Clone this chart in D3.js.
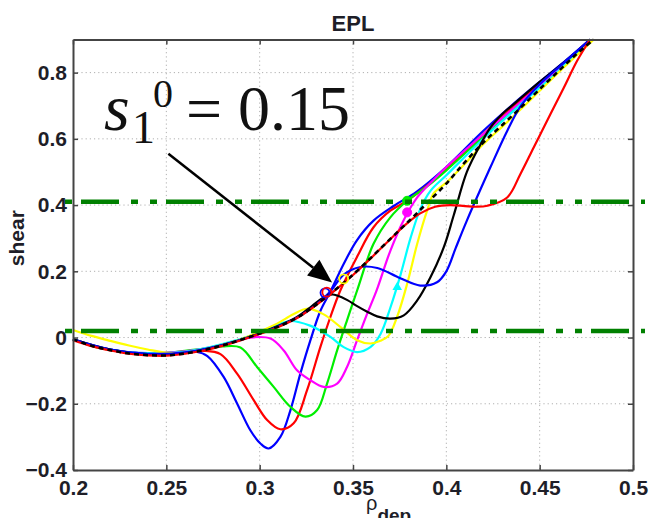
<!DOCTYPE html>
<html><head><meta charset="utf-8">
<script src="https://cdn.jsdelivr.net/npm/d3@7"></script>
<style>
html,body{margin:0;padding:0;background:#fff;}
svg{display:block;}
</style></head>
<body>
<svg id="chart" width="650" height="518"></svg>
<script>
// ---------- data ----------
const title = "EPL";
const xTicks = [0.2, 0.25, 0.3, 0.35, 0.4, 0.45, 0.5];
const xTickLabels = ["0.2", "0.25", "0.3", "0.35", "0.4", "0.45", "0.5"];
const yTicks = [-0.4, -0.2, 0, 0.2, 0.4, 0.6, 0.8];
const yTickLabels = ["\u22120.4", "\u22120.2", "0", "0.2", "0.4", "0.6", "0.8"];
const thresholds = [0.41, 0.02];

const seriesNames = ["blue1", "red2", "green3", "magenta4", "cyan5", "yellow6", "black7", "blue8", "red9"];

const blue1 = [[0.2,-0.005],[0.21,-0.024],[0.22,-0.036],[0.23,-0.045],[0.24,-0.049],[0.25,-0.048],[0.26,-0.044],[0.266,-0.043],[0.272,-0.056],[0.2807,-0.119],[0.2879,-0.199],[0.295,-0.28],[0.3004,-0.32],[0.3048,-0.335],[0.3111,-0.30],[0.3165,-0.219],[0.3218,-0.109],[0.3272,-0.008],[0.3325,0.08],[0.338,0.14],[0.345,0.222],[0.352,0.293],[0.361,0.353],[0.372,0.398],[0.384,0.44],[0.40,0.515],[0.42,0.625],[0.44,0.725],[0.46,0.818],[0.477,0.9]];
const red2 = [[0.2,-0.005],[0.21,-0.025],[0.22,-0.037],[0.23,-0.046],[0.24,-0.05],[0.25,-0.049],[0.26,-0.044],[0.27,-0.04],[0.279,-0.05],[0.2879,-0.109],[0.2968,-0.189],[0.304,-0.249],[0.3111,-0.277],[0.3182,-0.259],[0.3254,-0.159],[0.3325,-0.029],[0.3379,0.062],[0.3432,0.142],[0.352,0.242],[0.361,0.333],[0.37,0.383],[0.379,0.413],[0.39,0.46],[0.40,0.508],[0.42,0.615],[0.44,0.718],[0.46,0.812],[0.477,0.9]];
const green3 = [[0.2,-0.005],[0.21,-0.025],[0.22,-0.037],[0.23,-0.045],[0.24,-0.048],[0.25,-0.046],[0.26,-0.04],[0.27,-0.034],[0.28,-0.027],[0.2897,-0.03],[0.2986,-0.089],[0.3075,-0.149],[0.3164,-0.209],[0.3245,-0.239],[0.3308,-0.219],[0.3361,-0.139],[0.3415,-0.039],[0.3468,0.052],[0.3522,0.142],[0.361,0.283],[0.37,0.363],[0.379,0.413],[0.39,0.458],[0.40,0.505],[0.42,0.608],[0.44,0.71],[0.46,0.808],[0.477,0.9]];
const magenta4 = [[0.2,-0.005],[0.22,-0.036],[0.24,-0.047],[0.26,-0.042],[0.28,-0.022],[0.295,0.0],[0.3058,-0.003],[0.3129,-0.039],[0.32,-0.099],[0.3272,-0.129],[0.3343,-0.149],[0.3415,-0.139],[0.3468,-0.089],[0.3522,-0.008],[0.3576,0.072],[0.3625,0.14],[0.37,0.262],[0.377,0.353],[0.3844,0.423],[0.392,0.47],[0.40,0.515],[0.42,0.615],[0.44,0.712],[0.46,0.81],[0.477,0.9]];
const cyan5 = [[0.2,-0.005],[0.22,-0.036],[0.24,-0.047],[0.26,-0.043],[0.28,-0.02],[0.30,0.015],[0.31,0.04],[0.3165,0.05],[0.327,0.036],[0.3379,0.002],[0.345,-0.029],[0.3522,-0.044],[0.3593,-0.029],[0.3647,0.01],[0.37,0.09],[0.3755,0.19],[0.3808,0.3],[0.3862,0.39],[0.3915,0.443],[0.40,0.49],[0.42,0.602],[0.44,0.705],[0.46,0.805],[0.477,0.9]];
const yellow6 = [[0.2,0.023],[0.21,0.005],[0.22,-0.01],[0.23,-0.024],[0.24,-0.036],[0.25,-0.046],[0.26,-0.046],[0.27,-0.036],[0.28,-0.022],[0.29,-0.005],[0.30,0.018],[0.3093,0.042],[0.318,0.07],[0.3254,0.087],[0.3343,0.07],[0.3432,0.032],[0.3522,-0.008],[0.3593,-0.018],[0.3647,-0.01],[0.369,0.005],[0.3736,0.062],[0.379,0.162],[0.3844,0.283],[0.3897,0.383],[0.3932,0.435],[0.40,0.468],[0.41,0.525],[0.42,0.585],[0.43,0.637],[0.44,0.69],[0.45,0.745],[0.46,0.8],[0.47,0.853],[0.479,0.9]];
const black7 = [[0.2,-0.005],[0.22,-0.036],[0.24,-0.05],[0.26,-0.046],[0.28,-0.023],[0.30,0.013],[0.32,0.062],[0.328,0.095],[0.334,0.12],[0.339,0.13],[0.3415,0.127],[0.347,0.113],[0.3522,0.095],[0.3576,0.078],[0.3629,0.064],[0.370,0.057],[0.3772,0.067],[0.3844,0.112],[0.3915,0.182],[0.3986,0.272],[0.404,0.37],[0.411,0.5],[0.418,0.58],[0.4236,0.634],[0.43,0.675],[0.438,0.714],[0.45,0.772],[0.465,0.84],[0.477,0.9]];
const blue8 = [[0.2,-0.005],[0.22,-0.036],[0.24,-0.049],[0.26,-0.045],[0.28,-0.023],[0.30,0.012],[0.32,0.06],[0.33,0.098],[0.338,0.14],[0.345,0.19],[0.354,0.213],[0.363,0.21],[0.375,0.18],[0.386,0.157],[0.395,0.167],[0.40,0.2],[0.405,0.27],[0.411,0.353],[0.4236,0.514],[0.4326,0.624],[0.44,0.7],[0.45,0.765],[0.465,0.84],[0.477,0.9]];
const red9 = [[0.2,-0.008],[0.21,-0.026],[0.22,-0.039],[0.23,-0.049],[0.24,-0.054],[0.25,-0.055],[0.26,-0.049],[0.27,-0.039],[0.28,-0.025],[0.29,-0.008],[0.30,0.011],[0.31,0.032],[0.32,0.059],[0.33,0.097],[0.34,0.141],[0.35,0.189],[0.36,0.242],[0.37,0.297],[0.378,0.34],[0.386,0.375],[0.394,0.395],[0.402,0.4],[0.41,0.397],[0.416,0.395],[0.422,0.398],[0.4326,0.423],[0.4397,0.494],[0.4468,0.574],[0.4558,0.675],[0.463,0.755],[0.470,0.835],[0.477,0.9]];
// limiting (reference) curve, drawn dashed
const limitCurve = [[0.2,-0.005],[0.21,-0.025],[0.22,-0.038],[0.23,-0.048],[0.24,-0.053],[0.25,-0.054],[0.26,-0.048],[0.27,-0.038],[0.28,-0.024],[0.29,-0.007],[0.30,0.012],[0.31,0.033],[0.32,0.06],[0.33,0.098],[0.34,0.142],[0.35,0.19],[0.36,0.243],[0.37,0.298],[0.38,0.352],[0.39,0.408],[0.40,0.465],[0.41,0.53],[0.42,0.59],[0.43,0.642],[0.44,0.695],[0.45,0.75],[0.46,0.804],[0.47,0.857],[0.479,0.9]];

// marker points on the curves
const markerX = [0.335, 0.336, 0.345, 0.3737, 0.379, 0.379];
const markerY = [0.135, 0.137, 0.177, 0.152, 0.413, 0.378];
const markerSeries = ["blue1", "red2", "yellow6", "cyan5", "green3", "magenta4"];

// annotation
const annoLabel = {base: "s", sub: "1", sup: "0", rest: "= 0.15"};
const arrowFrom = [0.2511, 0.555];
const arrowTo = [0.3388, 0.166];

// ---------- styles ----------
const colors = {blue1:"#0000ff", red2:"#ff0000", green3:"#00ee00", magenta4:"#ff00ff", cyan5:"#00ffff", yellow6:"#ffff00", black7:"#000000", blue8:"#0000ff", red9:"#ff0000"};
const seriesData = {blue1, red2, green3, magenta4, cyan5, yellow6, black7, blue8, red9};

const svg = d3.select("#chart");
const L = 73, R = 633, T = 39.5, B = 470;
const x = d3.scaleLinear().domain([0.2, 0.5]).range([L, R]);
const y = d3.scaleLinear().domain([-0.4, 0.9]).range([B, T]);

// grid
const grid = svg.append("g");
grid.selectAll("line.gx").data(xTicks.slice(1, -1)).join("line")
  .attr("x1", d => x(d)).attr("x2", d => x(d)).attr("y1", T).attr("y2", B)
  .attr("stroke", "#b0b0b0").attr("stroke-width", 1).attr("stroke-dasharray", "1.2,3");
grid.selectAll("line.gy").data(yTicks.slice(1)).join("line")
  .attr("y1", d => y(d)).attr("y2", d => y(d)).attr("x1", L).attr("x2", R)
  .attr("stroke", "#b0b0b0").attr("stroke-width", 1).attr("stroke-dasharray", "1.2,3");

// curves
const line = d3.line().x(d => x(d[0])).y(d => y(d[1])).curve(d3.curveCatmullRom.alpha(0.5));
const plot = svg.append("g");
seriesNames.forEach(n => {
  plot.append("path").datum(seriesData[n]).attr("d", line)
    .attr("fill", "none").attr("stroke", colors[n]).attr("stroke-width", 2.2)
    .attr("stroke-linejoin", "round");
});
plot.append("path").datum(limitCurve).attr("d", line)
  .attr("fill", "none").attr("stroke", "#000").attr("stroke-width", 2.6)
  .attr("stroke-dasharray", "5,4");

// markers
markerX.forEach((mx, i) => {
  const c = colors[markerSeries[i]];
  const cx = x(mx), cy = y(markerY[i]);
  if (markerSeries[i] === "cyan5") {
    plot.append("path").attr("d", d3.symbol(d3.symbolTriangle, 40)())
      .attr("transform", `translate(${cx},${cy})`).attr("fill", c);
  } else if (markerSeries[i] === "magenta4" || markerSeries[i] === "green3") {
    plot.append("circle").attr("cx", cx).attr("cy", cy).attr("r", 4.5).attr("fill", c).attr("stroke", c);
  } else {
    plot.append("circle").attr("cx", cx).attr("cy", cy).attr("r", 4.5).attr("fill", "none").attr("stroke", c).attr("stroke-width", 1.8);
  }
});

// threshold lines (dash-dot-dot), extend beyond the axes
svg.append("g").selectAll("line").data(thresholds).join("line")
  .attr("x1", 65).attr("x2", 645).attr("y1", d => y(d)).attr("y2", d => y(d))
  .attr("stroke", "#008000").attr("stroke-width", 4.5)
  .attr("stroke-dasharray", "38,12,7,12,7,9").attr("stroke-dashoffset", 69);

// axes box
const axisColor = "#444";
const fontFam = "'Liberation Sans', Arial, Helvetica, sans-serif";
const gx = svg.append("g").attr("transform", `translate(0,${B})`)
  .call(d3.axisBottom(x).tickValues(xTicks).tickFormat((d, i) => xTickLabels[i]).tickSizeInner(-5).tickSizeOuter(0).tickPadding(10));
const gxTop = svg.append("g").attr("transform", `translate(0,${T})`)
  .call(d3.axisTop(x).tickValues(xTicks).tickFormat("").tickSizeInner(-5).tickSizeOuter(0));
const gy = svg.append("g").attr("transform", `translate(${L},0)`)
  .call(d3.axisLeft(y).tickValues(yTicks).tickFormat((d, i) => yTickLabels[i]).tickSizeInner(-5).tickSizeOuter(0).tickPadding(6));
const gyR = svg.append("g").attr("transform", `translate(${R},0)`)
  .call(d3.axisRight(y).tickValues(yTicks).tickFormat("").tickSizeInner(-5).tickSizeOuter(0));
[gx, gxTop, gy, gyR].forEach(g => {
  g.select(".domain").attr("stroke", axisColor).attr("stroke-width", 2);
  g.selectAll(".tick line").attr("stroke", axisColor).attr("stroke-width", 1.5);
  g.selectAll("text").attr("fill", "#1e1e28").attr("font-family", fontFam)
    .attr("font-weight", "bold").attr("font-size", 21);
});

// title
svg.append("text").attr("x", (L + R) / 2).attr("y", 31).attr("text-anchor", "middle")
  .attr("font-family", fontFam).attr("font-weight", "bold").attr("font-size", 22)
  .attr("fill", "#1e1e28").text(title);

// y label
svg.append("text").attr("transform", `translate(24,${y(0.3)}) rotate(-90)`)
  .attr("text-anchor", "middle").attr("font-family", fontFam).attr("font-weight", "bold")
  .attr("font-size", 21).attr("fill", "#1e1e28").text("shear");

// x label (rho_dep, partly cut by the bottom edge)
const xl = svg.append("text").attr("x", 366).attr("y", 510)
  .attr("font-family", fontFam).attr("font-size", 20).attr("fill", "#1e1e28");
xl.append("tspan").text("\u03c1");
xl.append("tspan").attr("dy", 12).attr("font-weight", "bold").attr("font-size", 19).text("dep");

// annotation arrow
const ax0 = x(arrowFrom[0]), ay0 = y(arrowFrom[1]), ax1 = x(arrowTo[0]), ay1 = y(arrowTo[1]);
const ang = Math.atan2(ay1 - ay0, ax1 - ax0);
const hl = 24, hw = 10;
const bx = ax1 - hl * Math.cos(ang), by = ay1 - hl * Math.sin(ang);
svg.append("line").attr("x1", ax0).attr("y1", ay0).attr("x2", bx).attr("y2", by)
  .attr("stroke", "#000").attr("stroke-width", 2.5);
svg.append("path").attr("d", `M${ax1},${ay1}L${bx - hw * Math.sin(ang)},${by + hw * Math.cos(ang)}L${bx + hw * Math.sin(ang)},${by - hw * Math.cos(ang)}Z`)
  .attr("fill", "#000");

// annotation text
const serif = "'Liberation Serif', 'Times New Roman', Times, serif";
const at = svg.append("g").attr("font-family", serif).attr("fill", "#111");
at.append("text").attr("x", 104).attr("y", 130).attr("font-size", 66).attr("font-style", "italic").text(annoLabel.base);
at.append("text").attr("x", 132).attr("y", 143).attr("font-size", 46).text(annoLabel.sub);
at.append("text").attr("x", 153).attr("y", 107).attr("font-size", 40).text(annoLabel.sup);
at.append("text").attr("x", 186).attr("y", 130).attr("font-size", 64).text(annoLabel.rest);
</script>
</body></html>
